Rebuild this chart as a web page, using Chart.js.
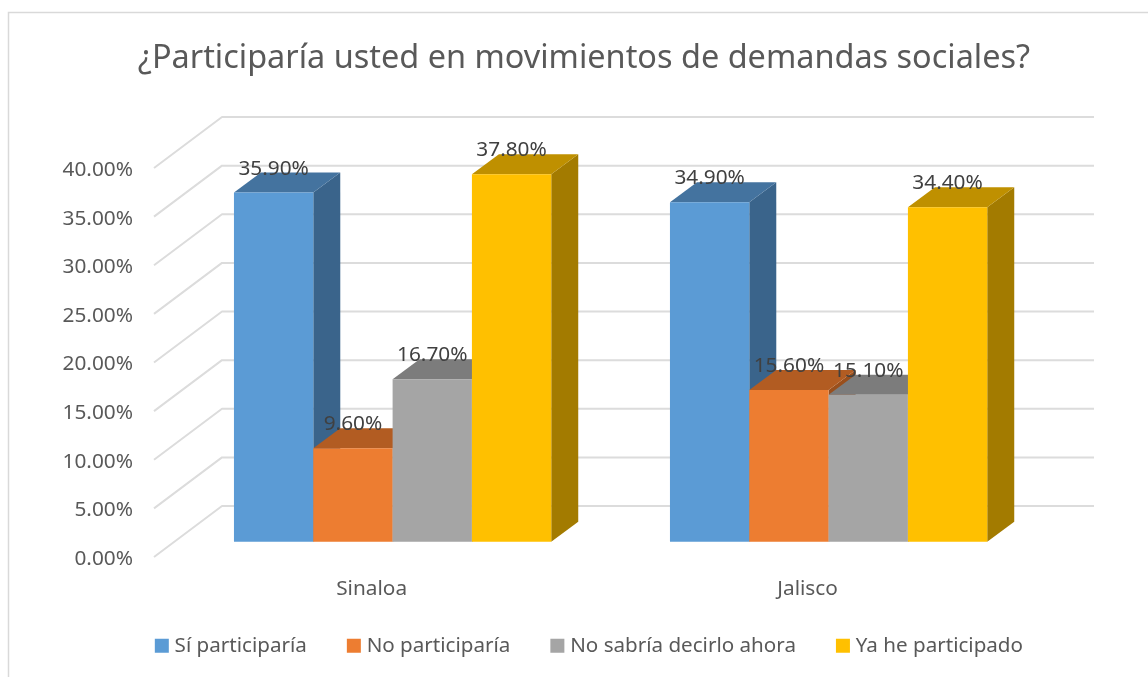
<!DOCTYPE html>
<html><head><meta charset="utf-8">
<style>html,body{margin:0;padding:0;background:#fff}canvas{display:block}</style>
<script src="https://cdn.jsdelivr.net/npm/chart.js@4"></script>
</head><body><div style="width:1148px;height:677px"><canvas id="c" width="1148" height="677"></canvas></div>
<script>
const categories = ["Sinaloa", "Jalisco"];
const siParticiparia = [35.9, 34.9];
const noParticiparia = [9.6, 15.6];
const noSabria = [16.7, 15.1];
const yaParticipado = [37.8, 34.4];
const seriesNames = ["Sí participaría", "No participaría", "No sabría decirlo ahora", "Ya he participado"];
const frontColors = ["#5B9BD5", "#ED7D31", "#A5A5A5", "#FFC000"];
const topColors = ["#44739F", "#B25C22", "#7C7C7C", "#BF9000"];
const sideColors = ["#3A648B", "#9A4F1C", "#696969", "#A37B00"];
const tickText = "#595959", labelText = "#404040", gridColor = "#DCDCDC";
const FONT = '"Noto Sans", sans-serif';
const depth = {dx: 27, dy: 20};
const wall = {left: 154, back: 222, right: 1094, backShift: 35.7, frontShift: 15.3};

const scene = {
  id: "scene",
  afterLayout(chart) {
    const lg = chart.legend;
    lg.left += 7.15; lg.right += 7.15;
    const h = lg.bottom - lg.top;
    lg.top = 591; lg.bottom = lg.top + h;
  },
  beforeDraw(chart) {
    const c = chart.ctx;
    c.save(); c.strokeStyle = "#D9D9D9"; c.lineWidth = 1.5;
    c.beginPath(); c.moveTo(8.5, 677); c.lineTo(8.5, 12.5); c.lineTo(1148, 12.5); c.stroke();
    c.restore();
  },
  beforeDatasetsDraw(chart) {
    const c = chart.ctx, y = chart.scales.y;
    c.save(); c.strokeStyle = gridColor; c.lineWidth = 2; c.lineJoin = "round";
    y.ticks.forEach(t => {
      const p = y.getPixelForValue(t.value);
      c.beginPath();
      c.moveTo(wall.left, p + wall.frontShift);
      c.lineTo(wall.back, p - wall.backShift);
      c.lineTo(wall.right, p - wall.backShift);
      c.stroke();
    });
    c.restore();
    // painter's order, left to right: each series' side and top, then its library-drawn front
    chart.data.datasets.forEach((d, i) => {
      const meta = chart.getDatasetMeta(i);
      c.save();
      meta.data.forEach(b => {
        const hw = b.width / 2, l = b.x - hw, r = b.x + hw, t = b.y, base = b.base;
        c.fillStyle = sideColors[i];
        c.beginPath(); c.moveTo(r, t); c.lineTo(r + depth.dx, t - depth.dy);
        c.lineTo(r + depth.dx, base - depth.dy); c.lineTo(r, base); c.closePath(); c.fill();
        c.fillStyle = topColors[i];
        c.beginPath(); c.moveTo(l, t); c.lineTo(l + depth.dx, t - depth.dy);
        c.lineTo(r + depth.dx, t - depth.dy); c.lineTo(r, t); c.closePath(); c.fill();
      });
      c.restore();
      meta.controller.draw();
    });
  },
  beforeDatasetDraw() { return false; },
  afterDatasetsDraw(chart) {
    const c = chart.ctx;
    c.save(); c.fillStyle = labelText; c.font = "20.8px " + FONT;
    c.textAlign = "center"; c.textBaseline = "middle";
    chart.data.datasets.forEach((d, i) => {
      chart.getDatasetMeta(i).data.forEach((b, j) => {
        c.fillText(d.data[j].toFixed(2) + "%", b.x, b.y - 24);
      });
    });
    c.restore();
  }
};

new Chart(document.getElementById("c"), {
  type: "bar",
  plugins: [scene],
  data: {
    labels: categories,
    datasets: [siParticiparia, noParticiparia, noSabria, yaParticipado].map((data, i) => ({
      label: seriesNames[i], data, backgroundColor: frontColors[i],
      barPercentage: 1, categoryPercentage: 0.7277
    }))
  },
  options: {
    responsive: false, animation: false,
    layout: {autoPadding: false, padding: {left: 20, right: 0, top: 0, bottom: 0}},
    scales: {
      x: {
        grid: {display: false}, border: {display: false},
        ticks: {color: tickText, font: {family: FONT, size: 20.8}, labelOffset: -21, padding: 27.3, maxRotation: 0},
        afterFit(s) { s.height = 60.2; }
      },
      y: {
        min: 0, max: 40,
        grid: {display: false}, border: {display: false},
        ticks: {stepSize: 5, color: tickText, font: {family: FONT, size: 20.8}, labelOffset: 17.3, padding: 33.6,
          callback: v => v.toFixed(2) + "%"},
        afterFit(s) { s.width = 154.6; }
      },
      spacer: {
        position: "right", grid: {display: false}, border: {display: false}, ticks: {display: false},
        afterFit(s) { s.width = 101.4; }
      }
    },
    plugins: {
      tooltip: {enabled: false},
      title: {display: true, text: "¿Participaría usted en movimientos de demandas sociales?",
        color: "#595959", font: {family: FONT, size: 32.45, weight: "normal"}, padding: {top: 39, bottom: 74.8}},
      legend: {position: "bottom", labels: {
        color: tickText, font: {family: FONT, size: 20.6}, boxWidth: 5, boxHeight: 5, padding: 44.5,
        generateLabels: ch => ch.data.datasets.map((d, i) => ({text: d.label, fillStyle: d.backgroundColor,
          strokeStyle: d.backgroundColor, lineWidth: 9, datasetIndex: i, fontColor: tickText}))
      }}
    }
  }
});
</script></body></html>
